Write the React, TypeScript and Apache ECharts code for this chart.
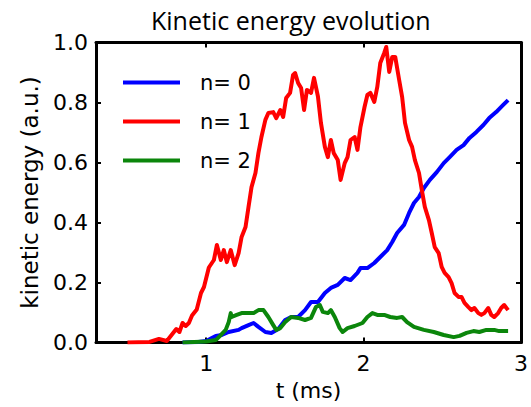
import React, { useEffect, useRef } from "react";
import * as echarts from "echarts";

// Kinetic energy of toroidal modes n = 0, 1, 2 versus time (ms)
const n0Time = [0.85, 0.95, 1.0, 1.036, 1.061, 1.099, 1.143, 1.206, 1.225, 1.269, 1.301, 1.332, 1.376, 1.414, 1.458, 1.502, 1.54, 1.584, 1.628, 1.666, 1.71, 1.754, 1.792, 1.836, 1.88, 1.917, 1.961, 1.98, 2.024, 2.068, 2.106, 2.15, 2.182, 2.213, 2.257, 2.289, 2.32, 2.352, 2.383, 2.421, 2.465, 2.509, 2.547, 2.591, 2.635, 2.673, 2.717, 2.761, 2.798, 2.842, 2.887, 2.918];
const n0Energy = [0.0, 0.002, 0.005, 0.015, 0.022, 0.025, 0.035, 0.042, 0.048, 0.058, 0.065, 0.052, 0.035, 0.032, 0.045, 0.075, 0.085, 0.085, 0.108, 0.135, 0.135, 0.165, 0.182, 0.192, 0.215, 0.208, 0.232, 0.248, 0.248, 0.265, 0.285, 0.308, 0.335, 0.365, 0.392, 0.432, 0.465, 0.485, 0.515, 0.542, 0.568, 0.598, 0.618, 0.642, 0.658, 0.682, 0.702, 0.725, 0.748, 0.768, 0.792, 0.808];

const n1Time = [0.5, 0.64, 0.7, 0.75, 0.78, 0.81, 0.83, 0.85, 0.87, 0.89, 0.91, 0.94, 0.967, 0.986, 1.017, 1.049, 1.068, 1.093, 1.112, 1.131, 1.156, 1.181, 1.206, 1.225, 1.25, 1.269, 1.288, 1.313, 1.332, 1.351, 1.376, 1.395, 1.426, 1.445, 1.471, 1.489, 1.508, 1.533, 1.552, 1.565, 1.584, 1.603, 1.622, 1.64, 1.666, 1.685, 1.71, 1.729, 1.754, 1.773, 1.792, 1.81, 1.836, 1.854, 1.88, 1.898, 1.917, 1.943, 1.961, 1.98, 2.006, 2.024, 2.043, 2.068, 2.087, 2.106, 2.131, 2.144, 2.163, 2.182, 2.201, 2.226, 2.245, 2.263, 2.289, 2.308, 2.326, 2.352, 2.37, 2.389, 2.415, 2.433, 2.452, 2.477, 2.496, 2.515, 2.54, 2.559, 2.578, 2.603, 2.622, 2.641, 2.666, 2.685, 2.704, 2.729, 2.748, 2.767, 2.792, 2.811, 2.83, 2.855, 2.874, 2.893, 2.918];
const n1Energy = [0.0, 0.002, 0.012, 0.005, 0.025, 0.045, 0.035, 0.065, 0.055, 0.065, 0.09, 0.11, 0.165, 0.185, 0.25, 0.275, 0.325, 0.275, 0.308, 0.268, 0.308, 0.258, 0.298, 0.352, 0.385, 0.452, 0.518, 0.565, 0.632, 0.685, 0.742, 0.765, 0.768, 0.748, 0.775, 0.752, 0.815, 0.832, 0.892, 0.898, 0.865, 0.848, 0.775, 0.842, 0.832, 0.882, 0.82, 0.732, 0.652, 0.618, 0.675, 0.632, 0.608, 0.542, 0.598, 0.618, 0.675, 0.685, 0.642, 0.718, 0.785, 0.825, 0.832, 0.802, 0.852, 0.932, 0.965, 0.985, 0.902, 0.952, 0.952, 0.875, 0.818, 0.732, 0.675, 0.652, 0.608, 0.565, 0.508, 0.452, 0.408, 0.365, 0.318, 0.298, 0.252, 0.232, 0.218, 0.198, 0.165, 0.152, 0.152, 0.132, 0.118, 0.108, 0.115, 0.098, 0.092, 0.098, 0.115, 0.092, 0.085, 0.098, 0.115, 0.125, 0.108];

const n2Time = [0.85, 1.0, 1.061, 1.08, 1.124, 1.143, 1.156, 1.162, 1.194, 1.225, 1.269, 1.301, 1.332, 1.364, 1.395, 1.426, 1.445, 1.471, 1.502, 1.54, 1.584, 1.628, 1.666, 1.697, 1.722, 1.741, 1.773, 1.792, 1.817, 1.848, 1.867, 1.898, 1.943, 1.993, 2.024, 2.056, 2.087, 2.131, 2.169, 2.213, 2.245, 2.276, 2.32, 2.383, 2.446, 2.509, 2.572, 2.61, 2.654, 2.698, 2.735, 2.78, 2.83, 2.861, 2.918];
const n2Energy = [0.0, 0.003, 0.008, 0.018, 0.042, 0.068, 0.098, 0.085, 0.092, 0.098, 0.098, 0.098, 0.108, 0.108, 0.085, 0.058, 0.042, 0.048, 0.068, 0.085, 0.082, 0.075, 0.082, 0.118, 0.125, 0.102, 0.098, 0.108, 0.085, 0.048, 0.035, 0.048, 0.055, 0.065, 0.085, 0.098, 0.092, 0.092, 0.085, 0.082, 0.085, 0.068, 0.052, 0.042, 0.035, 0.025, 0.018, 0.022, 0.032, 0.038, 0.035, 0.042, 0.042, 0.038, 0.038];

const seriesNames = ["n= 0", "n= 1", "n= 2"];
const seriesColors = ["#0000ff", "#ff0000", "#0b860b"];
const xTicks = [1, 2, 3];

const pairs = (t: number[], e: number[]) => t.map((v, i) => [v, e[i]]);

const FONT = "DejaVu Sans";

export default function App() {
  const ref = useRef<HTMLDivElement>(null);

  useEffect(() => {
    document.body.style.margin = "0";
    if (!ref.current) return;
    const chart = echarts.init(ref.current, undefined, { renderer: "svg" });

    const frameLine = { show: true, onZero: false, lineStyle: { color: "#000", width: 3 } };
    const innerTick = { show: true, inside: true, length: 5, lineStyle: { color: "#000", width: 2 } };

    chart.setOption({
      animation: false,
      backgroundColor: "#fff",
      title: {
        text: "Kinetic energy evolution",
        left: 146,
        top: 2,
        textStyle: { fontFamily: "Open Sans", fontSize: 25, fontWeight: "normal", color: "#000" },
      },
      legend: {
        data: seriesNames,
        orient: "vertical",
        left: 118,
        top: 67,
        itemWidth: 57,
        itemHeight: 4,
        itemGap: 18,
        icon: "rect",
        textStyle: { fontFamily: FONT, fontSize: 21, lineHeight: 21, color: "#000", padding: [0, 0, 0, 15] },
      },
      grid: { left: 96, right: 6, top: 42.5, bottom: 64.5, containLabel: false },
      xAxis: [
        {
          type: "value",
          min: 0.3,
          max: 3,
          name: "t (ms)",
          nameLocation: "middle",
          nameGap: 30,
          nameTextStyle: { fontFamily: FONT, fontSize: 22, color: "#000" },
          axisLine: frameLine,
          axisTick: { ...innerTick, customValues: xTicks },
          axisLabel: {
            customValues: xTicks,
            margin: 10,
            fontFamily: FONT,
            fontSize: 22,
            color: "#000",
          },
          splitLine: { show: false },
        },
        {
          type: "value",
          position: "top",
          min: 0.3,
          max: 3,
          axisLine: frameLine,
          axisTick: { ...innerTick, customValues: xTicks },
          axisLabel: { show: false },
          splitLine: { show: false },
        },
      ],
      yAxis: [
        {
          type: "value",
          min: 0,
          max: 1,
          interval: 0.2,
          name: "kinetic energy (a.u.)",
          nameLocation: "middle",
          nameGap: 55,
          nameTextStyle: { fontFamily: FONT, fontSize: 23, color: "#000" },
          axisLine: frameLine,
          axisTick: innerTick,
          axisLabel: {
            margin: 8,
            fontFamily: FONT,
            fontSize: 22,
            color: "#000",
            formatter: (v: number) => v.toFixed(1),
          },
          splitLine: { show: false },
        },
        {
          type: "value",
          position: "right",
          min: 0,
          max: 1,
          interval: 0.2,
          axisLine: frameLine,
          axisTick: innerTick,
          axisLabel: { show: false },
          splitLine: { show: false },
        },
      ],
      series: [
        { name: seriesNames[0], data: pairs(n0Time, n0Energy) },
        { name: seriesNames[1], data: pairs(n1Time, n1Energy) },
        { name: seriesNames[2], data: pairs(n2Time, n2Energy) },
      ].map((s, i) => ({
        ...s,
        type: "line",
        showSymbol: false,
        color: seriesColors[i],
        lineStyle: { color: seriesColors[i], width: 4, join: "round" },
        z: 3 + i,
      })),
    });

    return () => chart.dispose();
  }, []);

  return (
    <div
      ref={ref}
      style={{ position: "absolute", left: 0, top: 0, width: 531, height: 407 }}
    />
  );
}
